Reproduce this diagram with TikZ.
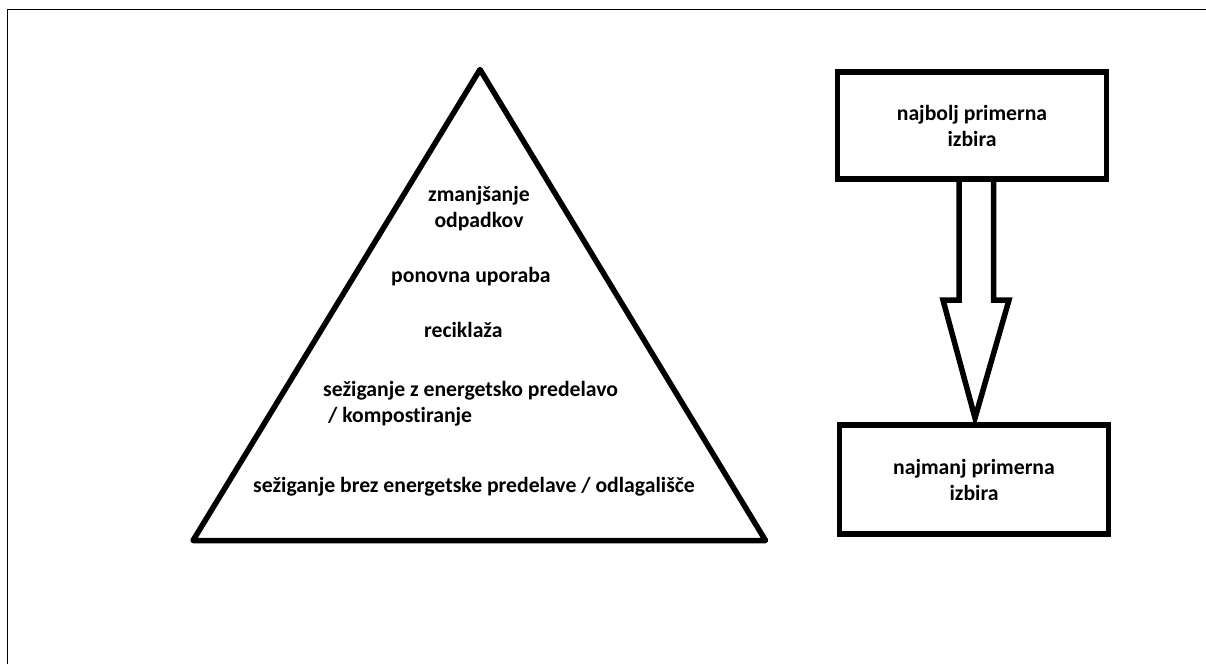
\documentclass[tikz,border=0pt]{standalone}
\usepackage{fontspec}
\setmainfont{Carlito}[Ligatures=NoCommon]
\begin{document}
\begin{tikzpicture}[x=1pt,y=-1pt,
  thick line/.style={line width=5.5pt, line join=miter},
  frame line/.style={line width=1.3pt},
  lbl/.style={inner sep=0pt, font=\bfseries\fontsize{21.7}{26}\selectfont, text=black},
  choicebox/.style={draw, thick line, inner sep=0pt, minimum width=269pt, minimum height=108pt,
     align=center, font=\bfseries\fontsize{21.7}{26}\selectfont}]
\useasboundingbox (0,0) rectangle (1206,664);
\fill[white] (0,0) rectangle (1206,664);
% frame
\coordinate (f1) at (7.3,664);
\coordinate (f2) at (7.3,9.5);
\coordinate (f3) at (1206,9.5);
\draw[frame line] (f1) -- (f2) -- (f3);
% pyramid
\coordinate (apex) at (480,69.5);
\coordinate (bl) at (193,540.5);
\coordinate (br) at (765.5,540.5);
\draw[thick line, line join=round, line cap=round] (apex) -- (br) -- (bl) -- cycle;
% pyramid labels (base = baseline of last line)
\node[lbl, anchor=base, align=center] (l1) at (479,227) {zmanjšanje\\odpadkov};
\node[lbl, anchor=base west] (l2) at (391,282) {ponovna uporaba};
\node[lbl, anchor=base west] (l3) at (424,337) {reciklaža};
\node[lbl, anchor=base west, align=left] (l4) at (323,422) {sežiganje z energetsko predelavo\\\ / kompostiranje};
\node[lbl, anchor=base west] (l5) at (253,492) {sežiganje brez energetske predelave / odlagališče};
% boxes
\node[choicebox, minimum height=107pt] (best) at (972,125.5) {najbolj primerna\\izbira};
\node[choicebox, minimum height=109pt] (worst) at (974,479.5) {najmanj primerna\\izbira};
% block arrow
\coordinate (sl) at (959,179);
\coordinate (sr) at (993.5,179);
\draw[thick line] (sl) -- (959,300) -- (943,300) -- (975,418) -- (1009,300) -- (993.5,300) -- (sr);
\end{tikzpicture}
\end{document}
